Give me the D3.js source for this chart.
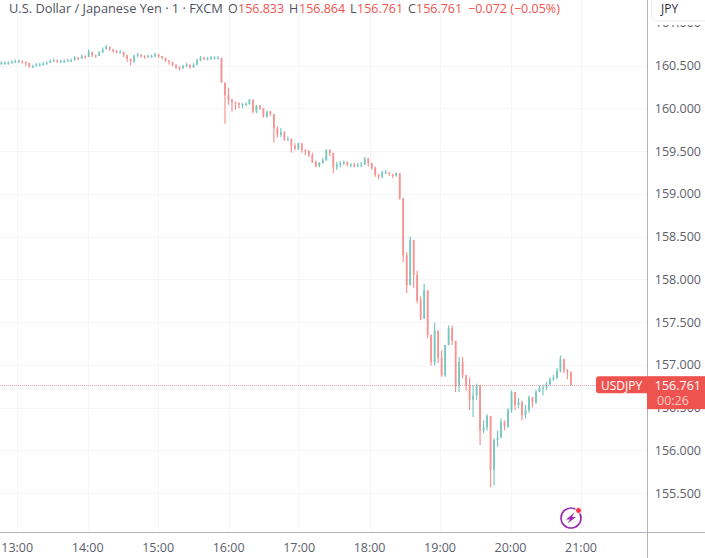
<!DOCTYPE html>
<html><head><meta charset="utf-8">
<script src="https://cdnjs.cloudflare.com/ajax/libs/d3/7.8.5/d3.min.js"></script>
<style>html,body{margin:0;padding:0;background:#fff}svg{display:block}text{font-family:"Open Sans",sans-serif}</style>
</head><body><svg id="c" width="705" height="558"></svg>
<script>
const closes=[
160.53,160.53,160.53,160.54,160.55,160.55,160.54,160.53,160.49,160.49,
160.51,160.51,160.52,160.53,160.55,160.56,160.55,160.55,160.55,160.56,
160.56,160.59,160.58,160.61,160.60,160.66,160.62,160.61,160.65,160.69,
160.72,160.69,160.67,160.66,160.66,160.62,160.58,160.55,160.61,160.63,
160.61,160.60,160.61,160.61,160.63,160.61,160.59,160.56,160.54,160.51,
160.48,160.47,160.49,160.51,160.48,160.51,160.56,160.59,160.58,160.58,
160.59,160.59,160.59,
160.30,160.15,160.10,160.07,160.06,160.04,160.05,160.05,160.10,159.96,
160.03,160.00,159.90,159.96,159.93,159.77,159.69,159.72,159.63,159.64,
159.56,159.53,159.59,159.51,159.50,159.45,159.37,159.32,159.36,159.39,
159.51,159.48,159.31,159.34,159.35,159.37,159.34,159.34,159.32,159.34,
159.34,159.41,159.36,159.30,159.22,159.20,159.25,159.25,159.23,159.21,
159.24,158.95,158.28,157.93,158.46,158.05,157.75,157.54,157.87,157.35,
157.03,157.40,157.08,156.88,157.23,157.43,157.28,156.76,157.03,156.88,
156.76,156.59,156.64,156.76,156.23,156.27,156.40,155.77,156.12,156.15,
156.33,156.28,156.47,156.68,156.53,156.56,156.41,156.47,156.62,156.56,
156.68,156.73,156.73,156.77,156.83,156.85,156.93,157.07,156.93,156.91,
156.761];
const highs=[
160.55,160.55,160.55,160.56,160.57,160.57,160.56,160.55,160.53,160.51,
160.53,160.53,160.54,160.55,160.57,160.58,160.57,160.57,160.57,160.58,
160.58,160.61,160.60,160.63,160.62,160.69,160.66,160.63,160.67,160.71,
160.74,160.72,160.69,160.68,160.68,160.66,160.62,160.58,160.63,160.65,
160.63,160.62,160.63,160.63,160.65,160.63,160.61,160.59,160.56,160.54,
160.51,160.49,160.51,160.53,160.51,160.53,160.58,160.61,160.60,160.60,
160.61,160.61,160.61,
160.59,160.30,160.24,160.11,160.08,160.07,160.06,160.07,160.11,160.10,
160.04,160.04,160.00,159.97,159.97,159.93,159.79,159.77,159.73,159.67,
159.65,159.59,159.60,159.59,159.52,159.51,159.48,159.39,159.37,159.42,
159.52,159.52,159.45,159.37,159.38,159.39,159.38,159.36,159.36,159.36,
159.37,159.43,159.42,159.36,159.32,159.23,159.27,159.28,159.25,159.23,
159.25,159.24,158.95,158.32,158.50,158.46,158.10,157.80,157.95,157.87,
157.35,157.49,157.40,157.17,157.23,157.46,157.46,157.28,157.09,157.09,
156.85,156.85,156.76,156.78,156.76,156.35,156.42,156.40,156.14,156.23,
156.37,156.35,156.49,156.70,156.68,156.61,156.58,156.53,156.64,156.62,
156.71,156.76,156.77,156.80,156.85,156.88,156.96,157.11,157.05,156.95,
156.92];
const lows=[
160.51,160.51,160.51,160.52,160.53,160.53,160.52,160.49,160.47,160.47,
160.49,160.49,160.50,160.51,160.53,160.54,160.53,160.53,160.53,160.54,
160.54,160.56,160.56,160.58,160.58,160.60,160.60,160.59,160.61,160.65,
160.69,160.67,160.65,160.64,160.64,160.60,160.54,160.50,160.53,160.60,
160.59,160.58,160.59,160.59,160.60,160.59,160.57,160.54,160.51,160.49,
160.46,160.44,160.46,160.48,160.46,160.47,160.50,160.55,160.56,160.56,
160.57,160.57,160.57,
160.30,159.82,160.04,159.96,159.98,160.00,160.00,160.03,160.04,159.94,
159.94,159.98,159.89,159.89,159.91,159.60,159.66,159.66,159.62,159.62,
159.48,159.51,159.51,159.48,159.45,159.43,159.36,159.31,159.31,159.35,
159.39,159.44,159.24,159.28,159.31,159.34,159.32,159.31,159.31,159.31,
159.31,159.34,159.32,159.28,159.20,159.17,159.18,159.23,159.21,159.18,
159.20,158.93,158.20,157.84,157.93,157.90,157.72,157.52,157.54,157.31,
156.99,156.99,157.02,156.86,156.86,157.23,157.23,156.68,156.68,156.84,
156.70,156.47,156.39,156.59,156.06,156.20,156.23,155.57,155.59,156.04,
156.14,156.23,156.26,156.44,156.47,156.49,156.35,156.37,156.44,156.50,
156.54,156.68,156.64,156.70,156.76,156.81,156.83,156.91,156.90,156.83,
156.76];
const firstOpen=160.53;
const priceTicks=[161,160.5,160,159.5,159,158.5,158,157.5,157,156.5,156,155.5];
const hourTicks=["13:00","14:00","15:00","16:00","17:00","18:00","19:00","20:00","21:00"];
const headerParts=[["U.S. Dollar / Japanese Yen · 1 · FXCM",9,"#50535e",12.8],["O",228,"#50535e",12.5],["156.833",238,"#ef5350",12.5],["H",289,"#50535e",12.5],["156.864",299,"#ef5350",12.5],["L",350,"#50535e",12.5],["156.761",357,"#ef5350",12.5],["C",408,"#50535e",12.5],["156.761",416,"#ef5350",12.5],["−0.072 (−0.05%)",468,"#ef5350",12.5]];
const lastPrice=156.761, barMinutes=2.975, startMinute=-13.5;

if(closes.length!==highs.length||closes.length!==lows.length)throw new Error("len "+closes.length+" "+highs.length+" "+lows.length);
const svg=d3.select("#c");
const defs=svg.append("defs");
defs.append("filter").attr("id","soft").attr("x","-2%").attr("y","-2%").attr("width","104%").attr("height","104%").append("feGaussianBlur").attr("stdDeviation",.35);
defs.append("clipPath").attr("id","belowBox").append("rect").attr("x",648).attr("y",25).attr("width",57).attr("height",533);
const y=d3.scaleLinear().domain([155.5,160.5]).range([493,65.5]);
const x=d3.scaleLinear().domain([0,480]).range([17.2,581]);
const plotR=647,plotB=532.5;
const grid=svg.append("g").attr("stroke","#f3f5fa").attr("stroke-width",1);
priceTicks.slice(1).forEach(p=>grid.append("line").attr("x1",0).attr("x2",plotR).attr("y1",Math.round(y(p))+.5).attr("y2",Math.round(y(p))+.5));
hourTicks.forEach((t,i)=>grid.append("line").attr("x1",Math.round(x(i*60))+.5).attr("x2",Math.round(x(i*60))+.5).attr("y1",0).attr("y2",plotB));
svg.append("line").attr("x1",0).attr("x2",596).attr("y1",Math.round(y(lastPrice))+.5).attr("y2",Math.round(y(lastPrice))+.5).attr("stroke","#f5a3a1").attr("stroke-dasharray","1 1");
const bars=closes.map((c,i)=>({i,c,o:i?closes[i-1]:firstOpen,h:highs[i],l:lows[i]}));
const xb=d=>x(startMinute+d.i*barMinutes);
const up="#26a69a",dn="#ef5350";
const col=d=>d.c>=d.o?up:dn;
const marks=svg.append("g").attr("filter","url(#soft)").attr("opacity",.62);
marks.append("g").selectAll("line").data(bars).join("line").attr("x1",xb).attr("x2",xb).attr("y1",d=>y(d.h)).attr("y2",d=>y(d.l)).attr("stroke",col).attr("stroke-width",1.2);
marks.append("g").selectAll("rect").data(bars).join("rect").attr("x",d=>xb(d)-.9).attr("width",1.8).attr("y",d=>Math.min(y(d.o),y(d.c))).attr("height",d=>Math.max(1.2,Math.abs(y(d.o)-y(d.c)))).attr("fill",col);
svg.append("line").attr("x1",plotR+.5).attr("x2",plotR+.5).attr("y1",0).attr("y2",558).attr("stroke","#b2b5be");
svg.append("line").attr("x1",0).attr("x2",705).attr("y1",plotB).attr("y2",plotB).attr("stroke","#b2b5be");
const tc="#5d606b";
priceTicks.forEach(p=>{const t=svg.append("text").attr("x",701).attr("y",y(p)+4.5).attr("text-anchor","end").attr("font-size",12.5).attr("fill",tc).text(d3.format(".3f")(p));if(p===161)t.attr("clip-path","url(#belowBox)");});
hourTicks.forEach((t,i)=>svg.append("text").attr("x",x(i*60)).attr("y",552).attr("text-anchor","middle").attr("font-size",12.5).attr("fill",tc).text(t));
// currency box
svg.append("path").attr("d","M651.5,0V17a4,4 0 0 0 4,4H705").attr("fill","none").attr("stroke","#eceef2");
svg.append("text").attr("x",661).attr("y",13).attr("font-size",12).attr("font-weight",500).attr("fill","#2a2e39").text("JPY");
// header
headerParts.forEach(([t,px,c,fs])=>svg.append("text").attr("x",px).attr("y",12.5).attr("font-size",fs).attr("fill",c).text(t));
// price tag
const ty=y(lastPrice);
svg.append("path").attr("d",`M647,${ty-9}H599a3,3 0 0 0 -3,3V${ty+5}a3,3 0 0 0 3,3H647Z`).attr("fill",dn);
svg.append("rect").attr("x",647).attr("y",ty-9).attr("width",58).attr("height",33).attr("fill",dn);
svg.append("text").attr("x",601).attr("y",ty+4.5).attr("font-size",12).attr("fill","#fff").text("USDJPY");
svg.append("text").attr("x",701).attr("y",ty+4.5).attr("text-anchor","end").attr("font-size",12.5).attr("fill","#fff").text(d3.format(".3f")(lastPrice));
svg.append("text").attr("x",657).attr("y",ty+20).attr("font-size",12.5).attr("fill","#fff").attr("fill-opacity",.7).text("00:26");
// bolt badge
const k=svg.append("g").attr("transform","translate(571,518)");
k.append("circle").attr("r",10).attr("fill","#fff").attr("stroke","#9c27b0").attr("stroke-width",1.6);
k.append("path").attr("d","M3.5,-5.5L-5,1.5H-1L-3.5,5.5L5,-1H1Z").attr("fill","#9c27b0");
k.append("circle").attr("cx",7.5).attr("cy",-7.5).attr("r",3).attr("fill","#f23645").attr("stroke","#fff");
</script></body></html>
